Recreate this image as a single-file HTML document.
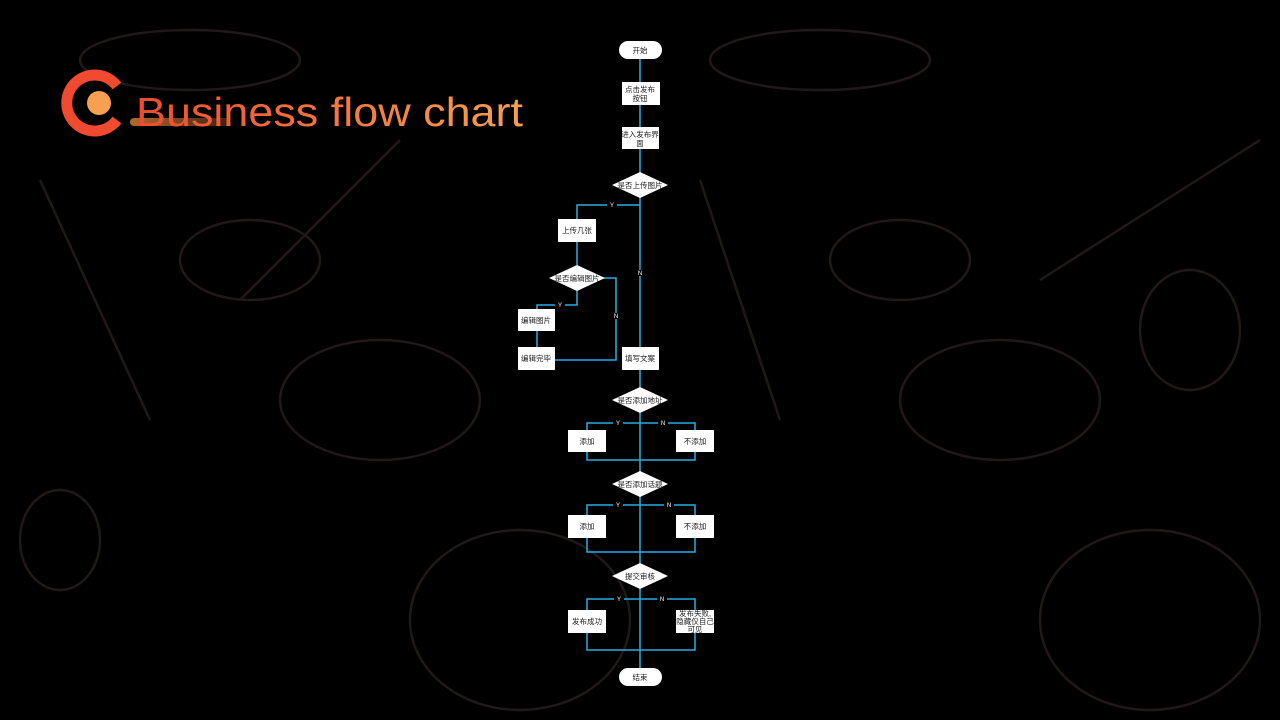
<!DOCTYPE html>
<html><head><meta charset="utf-8"><style>
html,body{margin:0;padding:0;background:#000;}
svg{display:block}
text{font-family:"Liberation Sans","Noto Sans CJK SC",sans-serif;}
</style></head><body>
<svg width="1280" height="720" viewBox="0 0 1280 720" xmlns="http://www.w3.org/2000/svg">
<defs>
<linearGradient id="tg" x1="0" x2="1"><stop offset="0" stop-color="#f04a30"/><stop offset="1" stop-color="#f7a050"/></linearGradient>
<linearGradient id="bg" x1="0" x2="1"><stop offset="0" stop-color="#b06a30"/><stop offset="1" stop-color="#3a2010"/></linearGradient>
</defs>
<rect width="1280" height="720" fill="#000"/>
<g fill="none" stroke="#211818" stroke-width="2.5">
<ellipse cx="190" cy="60" rx="110" ry="30"/>
<ellipse cx="380" cy="400" rx="100" ry="60"/>
<ellipse cx="60" cy="540" rx="40" ry="50"/>
<ellipse cx="1000" cy="400" rx="100" ry="60"/>
<ellipse cx="1150" cy="620" rx="110" ry="90"/>
<ellipse cx="520" cy="620" rx="110" ry="90"/>
<ellipse cx="820" cy="60" rx="110" ry="30"/>
<path d="M40 180 L150 420 M700 180 L780 420 M1260 140 L1040 280 M400 140 L240 300"/>
<ellipse cx="1190" cy="330" rx="50" ry="60"/>
<ellipse cx="250" cy="260" rx="70" ry="40"/>
<ellipse cx="900" cy="260" rx="70" ry="40"/>
</g>
<!-- logo -->
<path d="M117 86 A28 28 0 1 0 117 120" fill="none" stroke="#f04a30" stroke-width="11"/>
<circle cx="99" cy="103" r="12" fill="#f7a050"/>
<rect x="130" y="118" width="100" height="8" rx="4" fill="url(#bg)"/>
<text x="136" y="126" font-size="41" textLength="387" lengthAdjust="spacingAndGlyphs" fill="url(#tg)">Business flow chart</text>
<!-- connectors -->
<g fill="none" stroke="#2aaee0" stroke-width="1.5">
<path d="M640 59 V668"/>
<path d="M640 205 H577 V265"/>
<path d="M577 291 V305 H537 V347"/>
<path d="M603 278 H616 V360 H555"/>
<path d="M587 430 V423 H695 V430 M587 452 V460 H695 V452"/>
<path d="M587 515 V505 H695 V515 M587 538 V552 H695 V538"/>
<path d="M587 610 V599 H695 V610 M587 633 V650 H695 V633"/>
</g>
<g font-size="6" fill="#fff" text-anchor="middle">
<rect x="607" y="202" width="10" height="6" fill="#000"/><text x="612" y="207">Y</text>
<rect x="635" y="270" width="10" height="6" fill="#000"/><text x="640" y="275">N</text>
<rect x="555" y="302" width="10" height="6" fill="#000"/><text x="560" y="307">Y</text>
<rect x="611" y="313" width="10" height="6" fill="#000"/><text x="616" y="318">N</text>
<rect x="613" y="420" width="10" height="6" fill="#000"/><text x="618" y="425">Y</text>
<rect x="658" y="420" width="10" height="6" fill="#000"/><text x="663" y="425">N</text>
<rect x="613" y="502" width="10" height="6" fill="#000"/><text x="618" y="507">Y</text>
<rect x="664" y="502" width="10" height="6" fill="#000"/><text x="669" y="507">N</text>
<rect x="614" y="596" width="10" height="6" fill="#000"/><text x="619" y="601">Y</text>
<rect x="657" y="596" width="10" height="6" fill="#000"/><text x="662" y="601">N</text>
</g>
<!-- nodes -->
<g fill="#fff">
<rect x="619" y="41" width="43" height="18" rx="9"/>
<rect x="619" y="668" width="43" height="18" rx="9"/>
<rect x="622" y="82" width="38" height="23"/>
<rect x="622" y="127" width="37" height="22"/>
<polygon points="612,185 640,172 668,185 640,198"/>
<rect x="558" y="219" width="38" height="23"/>
<polygon points="549,278 577,265 605,278 577,291"/>
<rect x="518" y="309" width="37" height="22"/>
<rect x="518" y="347" width="37" height="23"/>
<rect x="622" y="347" width="37" height="23"/>
<polygon points="612,400 640,387 668,400 640,413"/>
<rect x="568" y="430" width="38" height="22"/>
<rect x="676" y="430" width="38" height="22"/>
<polygon points="612,484 640,471 668,484 640,497"/>
<rect x="568" y="515" width="38" height="23"/>
<rect x="676" y="515" width="38" height="23"/>
<polygon points="612,576 640,563 668,576 640,589"/>
<rect x="568" y="610" width="38" height="23"/>
<rect x="676" y="610" width="38" height="23"/>
</g>
<g font-size="7.5" fill="#222" text-anchor="middle">
<text x="640" y="53">开始</text>
<text x="640" y="680">结束</text>
<text x="640" y="92">点击发布</text><text x="640" y="101">按钮</text>
<text x="640" y="137">进入发布界</text><text x="640" y="146">面</text>
<text x="640" y="188">是否上传图片</text>
<text x="577" y="233">上传几张</text>
<text x="577" y="281">是否编辑图片</text>
<text x="536" y="323">编辑图片</text>
<text x="536" y="361">编辑完毕</text>
<text x="640" y="361">填写文案</text>
<text x="640" y="403">是否添加地址</text>
<text x="587" y="444">添加</text>
<text x="695" y="444">不添加</text>
<text x="640" y="487">是否添加话题</text>
<text x="587" y="529">添加</text>
<text x="695" y="529">不添加</text>
<text x="640" y="579">提交审核</text>
<text x="587" y="624">发布成功</text>
<text x="695" y="616">发布失败,</text><text x="695" y="624">隐藏仅自己</text><text x="695" y="632">可见</text>
</g>
</svg>
</body></html>
